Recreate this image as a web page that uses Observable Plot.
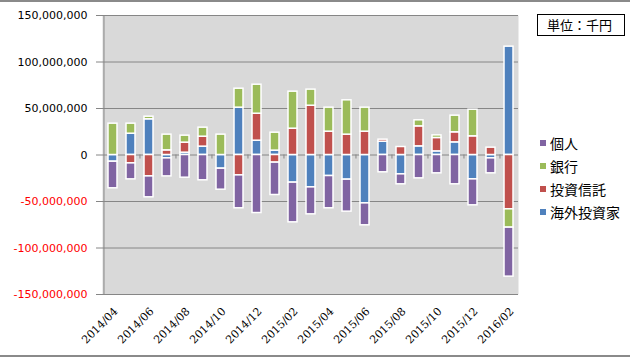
<!DOCTYPE html>
<html>
<head>
<meta charset="utf-8">
<script src="https://cdn.jsdelivr.net/npm/d3@7"></script>
<script src="https://cdn.jsdelivr.net/npm/@observablehq/plot@0.6"></script>
<style>
  body { margin: 0; background: #fff; }
  #wrap { position: relative; width: 630px; height: 357px; overflow: hidden;
          box-shadow: inset 0 2px 0 #8a8a8a, inset 0 -2px 0 #8a8a8a; }
  #chart svg { display: block; }
  .unit { position: absolute; left: 537px; top: 14px; width: 77px; height: 20px;
          border: 1px solid #000; padding-left: 9px; font: 13px "Noto Sans CJK JP", sans-serif;
          line-height: 20px; color: #000; }
  .leg { position: absolute; left: 540px; font: 14px "Noto Sans CJK JP", sans-serif; color: #000;
         line-height: 18px; white-space: nowrap; }
  .leg i { display: inline-block; width: 6px; height: 6px; margin-right: 4px; vertical-align: 3px; }
</style>
</head>
<body>
<div id="wrap">
  <div id="chart"></div>
  <div class="unit">単位：千円</div>
  <div id="legend"></div>
</div>
<script>
const months = ["2014/04","2014/05","2014/06","2014/07","2014/08","2014/09","2014/10","2014/11","2014/12",
  "2015/01","2015/02","2015/03","2015/04","2015/05","2015/06","2015/07","2015/08","2015/09","2015/10",
  "2015/11","2015/12","2016/01","2016/02"];
// values in 千円
const kaigai  = [-7200000, 22900000, 38400000, -3600000, 2500000, 9000000, -14700000, 50900000, 15400000,
  4700000, -29700000, -34800000, -22600000, -26500000, -52000000, 14300000, -20800000, 9300000, 3900000,
  13600000, -26200000, -3600000, 116500000];
const toushin = [0, -9000000, -23000000, 5000000, 10800000, 10700000, 0, -21900000, 29000000,
  -8200000, 28300000, 53000000, 25100000, 21900000, 25100000, 2200000, 8600000, 21500000, 14400000,
  10800000, 20100000, 7900000, -58400000];
const ginko   = [33700000, 10800000, 2800000, 16900000, 7500000, 9700000, 21900000, 20400000, 31200000,
  19300000, 39800000, 17300000, 25800000, 36900000, 25800000, 0, 0, 6500000, 2800000,
  17900000, 28600000, 0, -19700000];
const kojin   = [-28600000, -17200000, -22500000, -19400000, -24400000, -27200000, -22600000, -35400000, -62400000,
  -34800000, -42700000, -29000000, -34700000, -34400000, -23600000, -18600000, -10700000, -25100000, -19700000,
  -31500000, -27900000, -16100000, -52700000];

const series = ["海外投資家", "投資信託", "銀行", "個人"];        // stacking order from zero
const seriesValues = [kaigai, toushin, ginko, kojin];
const colors = ["#4F81BD", "#C0504D", "#9BBB59", "#8064A2"];
const legendOrder = ["個人", "銀行", "投資信託", "海外投資家"];
const yTicks = [-150000000, -100000000, -50000000, 0, 50000000, 100000000, 150000000];

const data = months.flatMap((m, i) => series.map((s, j) => ({month: m, series: s, value: seriesValues[j][i]})));

const W = 630, H = 357, mL = 102, mR = 112, mT = 15, mB = 63;
const step = (W - mL - mR) / months.length;
const fmt = v => (v < 0 ? "-" : "") + d3.format(",")(Math.abs(v));
const axisFont = {fontFamily: "DejaVu Sans", fontSize: 11, tickSize: 6, tickPadding: 9, stroke: "#868686",
  tickFormat: fmt, label: null};

const chart = Plot.plot({
  width: W, height: H,
  marginLeft: mL, marginRight: mR, marginTop: mT, marginBottom: mB,
  style: {background: "transparent"},
  x: {domain: months, paddingInner: 0.5, paddingOuter: 0.25, axis: null, label: null},
  y: {domain: [-150000000, 150000000], axis: null, label: null},
  color: {domain: series, range: colors},
  marks: [
    Plot.frame({fill: "#D9D9D9", stroke: null}),
    Plot.gridY(yTicks, {stroke: "#868686", strokeOpacity: 1}),
    Plot.ruleX([months[0]], {dx: -step / 2, stroke: "#868686"}),
    Plot.ruleX(months.filter((d, i) => i > 0 && i % 2 === 0),
      {dx: -step / 2, y1: 0, y2: 0, insetBottom: -4, stroke: "#868686"}),
    Plot.barY(data, {x: "month", y: "value", fill: "series", stroke: "white", strokeWidth: 1.5}),
    Plot.axisY(yTicks.filter(v => v >= 0), {...axisFont, fill: "#000"}),
    Plot.axisY(yTicks.filter(v => v < 0), {...axisFont, fill: "#FF0000"}),
    Plot.axisX(months.filter((d, i) => i % 2 === 0),
      {tickRotate: -45, tickSize: 0, tickPadding: 15, dx: 3, fontFamily: "DejaVu Serif", fontSize: 11,
       fill: "#000", label: null})
  ]
});
document.getElementById("chart").appendChild(chart);

const leg = document.getElementById("legend");
legendOrder.forEach((s, k) => {
  const d = document.createElement("div");
  d.className = "leg";
  d.style.top = (134 + k * 23) + "px";
  d.innerHTML = `<i style="background:${colors[series.indexOf(s)]}"></i>${s}`;
  leg.appendChild(d);
});
</script>
</body>
</html>
